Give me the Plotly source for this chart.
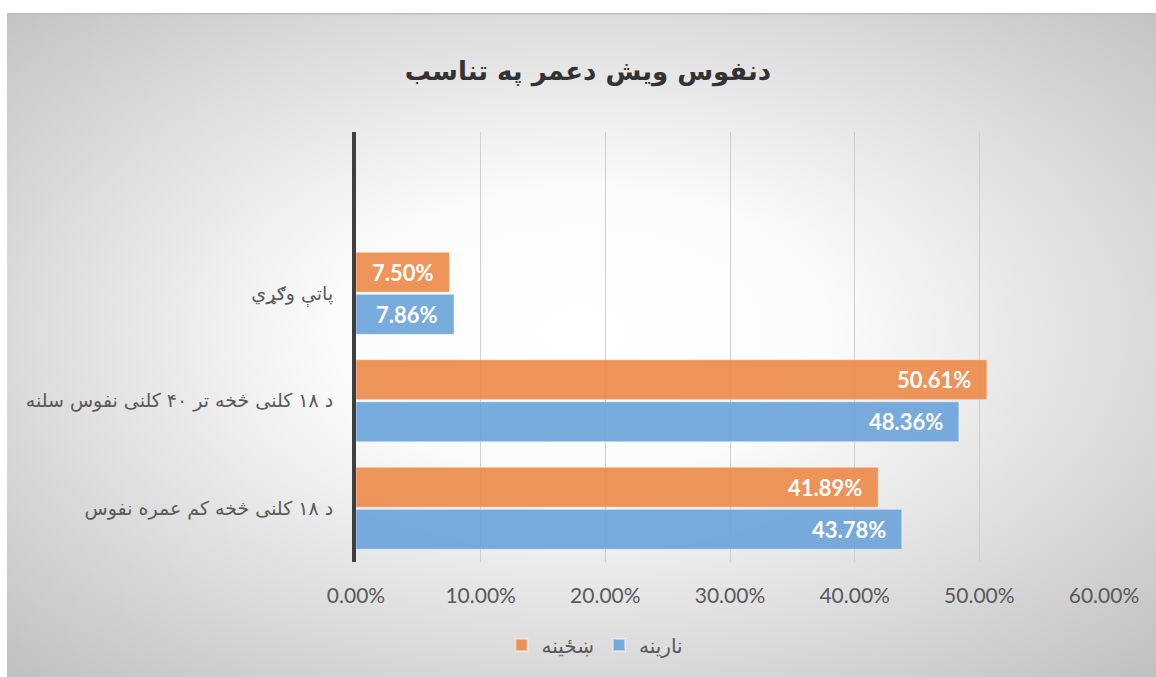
import base64
import plotly.graph_objects as go

# Age-group shares of the population by sex
categories = [
    "د ۱۸ کلنی څخه کم عمره نفوس",
    "د ۱۸ کلنی څخه تر ۴۰ کلنی نفوس سلنه",
    "پاتې وګړي",
]
male_share = [0.4378, 0.4836, 0.0786]
female_share = [0.4189, 0.5061, 0.0750]
male_name = "نارینه"
female_name = "ښځینه"
title_text = "دنفوس ویش دعمر په تناسب"
x_ticks = [0.0, 0.1, 0.2, 0.3, 0.4, 0.5, 0.6]

W, H = 1156, 677
L, R, T, B = 356, 52, 132, 115
BLUE = "#6FA6DB"
ORANGE = "#ED8D4E"
TEXT_GREY = "#595959"
ARABIC_FONT = "DejaVu Sans, Noto Sans, sans-serif"
NUM_FONT = "Lato, Open Sans, sans-serif"

pos = list(range(len(categories)))
bar_w = 0.372
gap = 0.01

fig = go.Figure()
fig.add_trace(go.Bar(
    name=male_name, y=pos, x=male_share, orientation="h",
    width=bar_w, offset=-(bar_w + gap),
    marker=dict(color=BLUE, line=dict(color="rgba(255,255,255,0.45)", width=1)),
    opacity=0.93, hoverinfo="x+name",
))
fig.add_trace(go.Bar(
    name=female_name, y=pos, x=female_share, orientation="h",
    width=bar_w, offset=gap,
    marker=dict(color=ORANGE, line=dict(color="rgba(255,255,255,0.45)", width=1)),
    opacity=0.93, hoverinfo="x+name",
))

# value labels at the inner end of each bar
annotations = []
for i, (m, f) in enumerate(zip(male_share, female_share)):
    for val, yc in ((m, i - gap - bar_w / 2), (f, i + gap + bar_w / 2)):
        annotations.append(dict(
            x=val, y=yc, xref="x", yref="y", text=f"<b>{val * 100:.2f}%</b>",
            showarrow=False, xanchor="right", yanchor="middle", xshift=-14,
            font=dict(family=NUM_FONT, size=22, color="white"),
        ))

# radial-gradient chart background
svg = (
    "<svg xmlns='http://www.w3.org/2000/svg' width='1149' height='664' preserveAspectRatio='none'>"
    "<defs><radialGradient id='g' cx='50%' cy='48%' r='72%'>"
    "<stop offset='0' stop-color='#ffffff'/>"
    "<stop offset='0.3' stop-color='#fbfbfb'/>"
    "<stop offset='1' stop-color='#c0c0c0'/>"
    "</radialGradient></defs>"
    "<rect width='1149' height='664' fill='url(#g)'/>"
    "<rect x='0' y='0' width='1149' height='1.5' fill='#bdbdbd'/>"
    "</svg>"
)
bg_uri = "data:image/svg+xml;base64," + base64.b64encode(svg.encode()).decode()
pw, ph = W - L - R, H - T - B
bx0, by0 = 7, 13
fig.add_layout_image(dict(
    source=bg_uri, xref="paper", yref="paper",
    x=(bx0 - L) / pw, y=(H - B - by0) / ph,
    sizex=(W - bx0) / pw, sizey=(H - by0) / ph,
    sizing="stretch", xanchor="left", yanchor="top", layer="below",
))

fig.update_layout(
    width=W, height=H,
    margin=dict(l=L, r=R, t=T, b=B),
    paper_bgcolor="white", plot_bgcolor="rgba(0,0,0,0)",
    barmode="overlay",
    title=dict(
        text=title_text, xref="container", yref="container",
        x=588 / W, y=1 - 71 / H, xanchor="center", yanchor="middle",
        font=dict(family=ARABIC_FONT, size=26, color="#333333", weight="bold"),
    ),
    xaxis=dict(
        range=[0, 0.6], tickvals=x_ticks, tickformat=".2%",
        showgrid=True, gridcolor="#cfcfcf", gridwidth=1,
        zeroline=False, showline=False, ticks="", ticklabelstandoff=19,
        tickfont=dict(family=NUM_FONT, size=21, color=TEXT_GREY),
        fixedrange=True,
    ),
    yaxis=dict(
        range=[-0.5, 3.5], tickvals=pos, ticktext=categories,
        showgrid=False, zeroline=False, showline=True,
        linecolor="#3f3f3f", linewidth=4, ticks="", ticklabelstandoff=15,
        tickfont=dict(family=ARABIC_FONT, size=19, color=TEXT_GREY),
        fixedrange=True,
    ),
    legend=dict(
        orientation="h", traceorder="reversed",
        x=(595 - L) / pw, xanchor="center", y=(H - B - 645) / ph, yanchor="middle",
        font=dict(family=ARABIC_FONT, size=20, color=TEXT_GREY),
        bgcolor="rgba(0,0,0,0)", itemsizing="constant",
    ),
    annotations=annotations,
    showlegend=True,
)

fig.write_html("out.html")
